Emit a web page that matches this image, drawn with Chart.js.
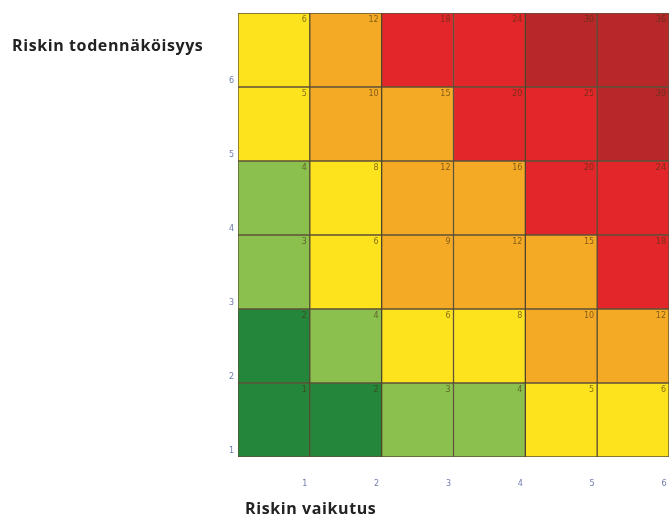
<!DOCTYPE html>
<html>
<head>
<meta charset="utf-8">
<script src="https://cdn.jsdelivr.net/npm/chart.js"></script>
<style>
  body { margin: 0; background: #fff; }
  #wrap { position: relative; width: 670px; height: 520px; }
  .ttl { position: absolute; font-family: "Open Sans"; font-weight: bold; font-size: 16px; letter-spacing: 0.6px; color: #222; white-space: nowrap; line-height: 20px; }
</style>
</head>
<body>
<div id="wrap">
  <canvas id="riskMatrix" width="670" height="520"></canvas>
  <div class="ttl" style="left:12px;top:35px">Riskin todennäköisyys</div>
  <div class="ttl" style="left:245px;top:498px">Riskin vaikutus</div>
</div>
<script>
// impact on x, likelihood on y (row 0 = likelihood 1)
const impact = [1, 2, 3, 4, 5, 6];
const likelihood = [1, 2, 3, 4, 5, 6];

const scores = [
  [1, 2, 3, 4, 5, 6],
  [2, 4, 6, 8, 10, 12],
  [3, 6, 9, 12, 15, 18],
  [4, 8, 12, 16, 20, 24],
  [5, 10, 15, 20, 25, 30],
  [6, 12, 18, 24, 30, 36],
];

// colour level of every cell, same layout as scores
const levels = [
  [0, 0, 1, 1, 2, 2],
  [0, 1, 2, 2, 3, 3],
  [1, 2, 3, 3, 3, 4],
  [1, 2, 3, 3, 4, 4],
  [2, 3, 3, 4, 4, 5],
  [2, 3, 4, 4, 5, 5],
];

const levelColors = ["#24863a", "#8cc04e", "#fde21e", "#f5aa25", "#e3262a", "#b8282a"];

const cellNumbers = {
  id: "cellNumbers",
  afterDatasetsDraw(chart) {
    const ctx = chart.ctx;
    ctx.save();
    ctx.font = "8px 'DejaVu Sans'";
    ctx.fillStyle = "rgba(70,50,20,0.65)";
    ctx.textAlign = "right";
    ctx.textBaseline = "top";
    chart.data.datasets.forEach((ds, r) => {
      chart.getDatasetMeta(r).data.forEach((bar, c) => {
        const p = bar.getProps(["x", "y", "width"], true);
        ctx.fillText(scores[r][c], p.x + p.width / 2 - 3, p.y + 3);
      });
    });
    ctx.restore();
  },
};

new Chart("riskMatrix", {
  type: "bar",
  data: {
    labels: impact,
    datasets: likelihood.map((l, r) => ({
      label: "Todennäköisyys " + l,
      data: impact.map(() => 1),
      backgroundColor: levels[r].map((lv) => levelColors[lv]),
      borderColor: "rgba(55,40,10,0.8)",
      borderWidth: 1,
      borderSkipped: false,
      barPercentage: 1,
      categoryPercentage: 1,
    })),
  },
  options: {
    responsive: false,
    animation: false,
    layout: { padding: { top: 13, right: 1, left: 0, bottom: 0 } },
    plugins: {
      legend: { display: false },
      tooltip: { enabled: false },
    },
    scales: {
      x: {
        stacked: true,
        display: false,
      },
      xt: {
        type: "linear",
        position: "bottom",
        min: 0,
        max: 6,
        offset: false,
        grid: { display: false, drawTicks: false, offset: false },
        border: { display: false },
        afterFit: (s) => {
          s.height = 63;
          s.paddingLeft = 0;
          s.paddingRight = 0;
        },
        ticks: {
          stepSize: 1,
          autoSkip: false,
          maxRotation: 0,
          padding: 22,
          labelOffset: -5,
          color: "#6f7cab",
          font: { size: 8, family: "DejaVu Sans" },
          callback: (v) => (v >= 1 ? impact[v - 1] : ""),
        },
      },
      y: {
        stacked: true,
        min: 0,
        max: 6,
        grid: { display: false, drawTicks: false },
        border: { display: false },
        afterFit: (s) => {
          s.width = 238;
          s.paddingTop = 0;
          s.paddingBottom = 0;
        },
        ticks: {
          stepSize: 1,
          autoSkip: false,
          padding: 4,
          labelOffset: -6,
          color: "#6f7cab",
          font: { size: 8, family: "DejaVu Sans" },
          callback: (v) => (v < 6 ? likelihood[v] : ""),
        },
      },
    },
  },
  plugins: [cellNumbers],
});
</script>
</body>
</html>
